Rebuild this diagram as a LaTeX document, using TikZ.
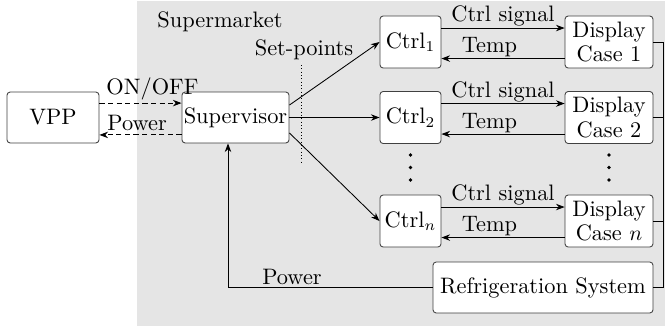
\documentclass[tikz,border=0pt]{standalone}
\usetikzlibrary{arrows.meta}
\begin{document}
\begin{tikzpicture}[x=0.465pt,y=-0.465pt,
  font=\fontsize{10.4}{11.4}\selectfont,
  box/.style={draw=black!75, fill=white, rounded corners=1.5pt, inner sep=0.8pt, align=center},
  arr/.style={-{Stealth[length=4pt,width=3pt]}},
  lbl/.style={inner sep=0.6pt},
  dsh/.style={dash pattern=on 2.4pt off 1.6pt},
  dot/.style={fill=black, circle, inner sep=0pt, minimum size=1.8pt}]
\useasboundingbox (0,0) rectangle (668,327);
\fill[black!10] (137,1) rectangle (665,326);

\node[anchor=west, inner sep=0pt] (smk) at (157,22) {Supermarket};
\node[inner sep=0pt] (setp) at (304,50) {Set-points};

\node[box, minimum width=42.8pt, minimum height=23.7pt] (vpp) at (53,117.5) {VPP};
\node[box, minimum width=49.8pt, minimum height=23.7pt] (sup) at (235.5,117.5) {Supervisor};

\node[box, minimum width=28.4pt, minimum height=24.2pt] (c1) at (410.5,42) {Ctrl$_1$};
\node[box, minimum width=28.4pt, minimum height=24.2pt] (c2) at (410.5,117.5) {Ctrl$_2$};
\node[box, minimum width=28.4pt, minimum height=24.2pt] (cn) at (410.5,221) {Ctrl$_n$};

\node[box, minimum width=40.9pt, minimum height=24.2pt] (d1) at (609,42) {Display\\Case 1};
\node[box, minimum width=40.9pt, minimum height=24.2pt] (d2) at (609,117.5) {Display\\Case 2};
\node[box, minimum width=40.9pt, minimum height=24.2pt] (dn) at (609,221) {Display\\Case $n$};

\node[box, minimum width=102.3pt, minimum height=23.7pt] (ref) at (543,287.5) {Refrigeration System};

\foreach \x/\n in {410.5/a,609/b}{
  \node[dot] (\n1) at (\x,155) {};
  \node[dot] (\n2) at (\x,167.5) {};
  \node[dot] (\n3) at (\x,180) {};
}

% VPP <-> Supervisor
\draw[arr, dsh] ([yshift=6.7pt]vpp.east) -- ([yshift=6.7pt]sup.west);
\draw[arr, dsh] ([yshift=-8.1pt]sup.west) -- ([yshift=-8.1pt]vpp.east);
\node[anchor=west, inner sep=0pt] (onoff) at (106,89) {ON/OFF};
\node[anchor=west, inner sep=0pt] (pw1) at (107,123) {Power};

% set-point dotted line
\draw[line width=0.45pt, dash pattern=on 0.45pt off 1.1pt] (301,65) -- (301,165);

% supervisor to controllers
\draw[arr] ([yshift=5.8pt]sup.east) -- (c1.west);
\draw[arr] (sup.east) -- (c2.west);
\draw[arr] ([yshift=-7.2pt]sup.east) -- (cn.west);

% controller <-> display
\foreach \c/\d in {c1/d1,c2/d2,cn/dn}{
  \draw[arr] ([yshift=6.5pt]\c.east) -- node[midway, above, lbl] {Ctrl signal} ([yshift=6.5pt]\d.west);
  \draw[arr] ([yshift=-7.7pt]\d.west) -- node[pos=0.61, above, lbl] {Temp} ([yshift=-7.7pt]\c.east);
}

% right bus
\draw (d1.east) -- ++(10,0) coordinate (b1) -- (b1 |- ref.east) -- (ref.east);
\draw (d2.east) -- ++(10,0);
\draw (dn.east) -- ++(10,0);

% power feedback
\coordinate (pc) at (228,287.5);
\draw[arr] (ref.west) -- (pc) -- (pc |- sup.south);
\node[inner sep=0pt] (pw2) at (292,277) {Power};
\end{tikzpicture}
\end{document}
